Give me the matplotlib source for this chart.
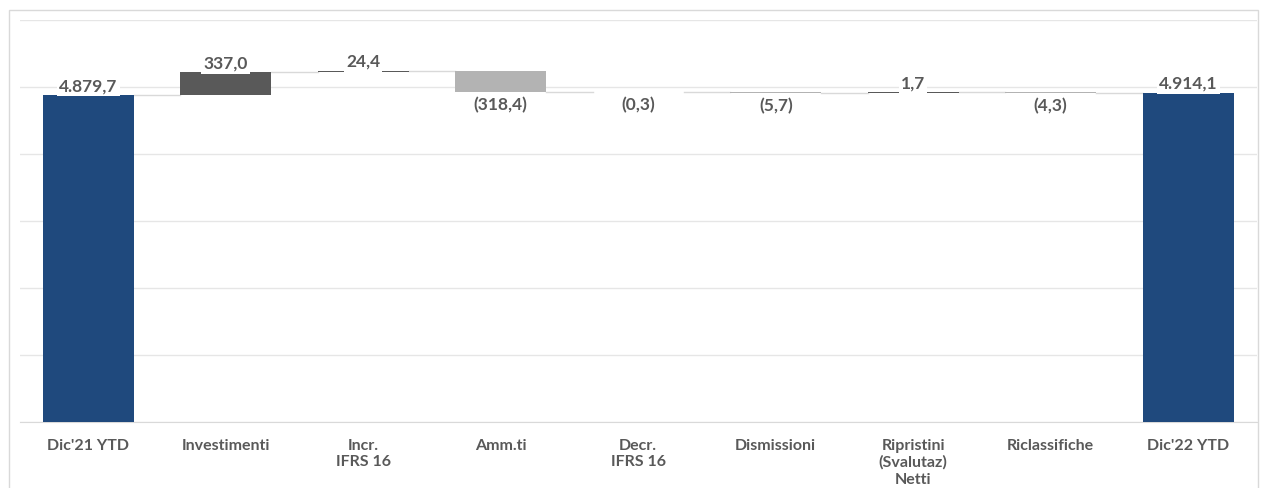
import matplotlib
matplotlib.use("Agg")
import matplotlib.pyplot as plt
from matplotlib.patches import Rectangle

categories = ["Dic'21 YTD", "Investimenti", "Incr.\nIFRS 16", "Amm.ti", "Decr.\nIFRS 16",
              "Dismissioni", "Ripristini\n(Svalutaz)\nNetti", "Riclassifiche", "Dic'22 YTD"]
values = [4879.7, 337.0, 24.4, -318.4, -0.3, -5.7, 1.7, -4.3, 4914.1]
is_total = [True, False, False, False, False, False, False, False, True]

C_TOTAL = "#1F497D"
C_UP = "#595959"
C_DOWN = "#B3B3B3"
TXT = "#595959"

def fmt(v, total):
    s = f"{abs(v):,.1f}".replace(",", "X").replace(".", ",").replace("X", ".")
    if v < 0 and not total:
        return f"({s})"
    return s

fig = plt.figure(figsize=(12.65, 4.88), dpi=100)
ax = fig.add_axes([19.5/1265, (488-422)/488, (1257-19.5)/1265, (422-20)/488])
fig.patches.append(Rectangle((9/1265, -0.1), (1258-9)/1265, 1.1 - 10/488,
                             transform=fig.transFigure, fill=False, ec="#D9D9D9", lw=1))

width = 0.66
running = 0.0
for i, (v, tot) in enumerate(zip(values, is_total)):
    if tot:
        bottom, height, color = 0, v, C_TOTAL
        running = v
        top, low = v, 0
    else:
        bottom = running
        height = v
        color = C_UP if v > 0 else C_DOWN
        running = running + v
        top, low = max(bottom, running), min(bottom, running)
    ax.bar(i, height, bottom=bottom, width=width, color=color, zorder=3)
    if i < len(values) - 1:
        ax.plot([i + width/2, i + 1 - width/2], [running, running], color="#D9D9D9", lw=1, zorder=2)
    if tot or v > 0:
        ax.text(i, top + 15, fmt(v, tot), ha="center", va="bottom", fontsize=12.5, fontweight="bold",
                color=TXT, family="Lato", zorder=5,
                bbox=dict(boxstyle="square,pad=0.12", fc="white", ec="none"))
    else:
        ax.text(i, low - 75, fmt(v, tot), ha="center", va="top", fontsize=12.5, fontweight="bold",
                color=TXT, family="Lato", zorder=5,
                bbox=dict(boxstyle="square,pad=0.12", fc="white", ec="none"))

ax.set_xlim(-0.5, len(values) - 0.5)
ax.set_ylim(0, 6000)
ax.set_yticks(range(0, 6001, 1000))
ax.set_yticklabels([])
ax.tick_params(axis="y", length=0)
ax.grid(axis="y", color="#E6E6E6", lw=1, zorder=0)
ax.set_xticks(range(len(categories)))
ax.set_xticklabels(categories, fontsize=11.5, fontweight="bold", color=TXT, family="Lato", linespacing=1.25)
ax.tick_params(axis="x", length=0, pad=12)
for s in ["top", "right", "left"]:
    ax.spines[s].set_visible(False)
ax.spines["bottom"].set_color("#D9D9D9")

fig.savefig("out.png", dpi=100, facecolor="white")
